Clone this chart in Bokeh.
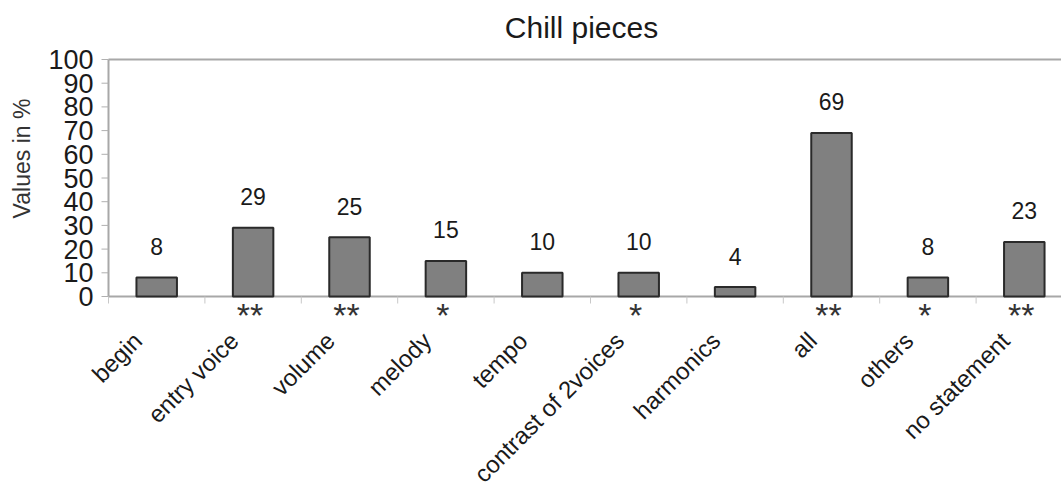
import math
from bokeh.plotting import figure
from bokeh.models import ColumnDataSource, LabelSet, Label, Range1d
from bokeh.core.properties import value
from bokeh.embed import file_html
from bokeh.resources import INLINE

# ---- data ----
categories = ["begin", "entry voice", "volume", "melody", "tempo",
              "contrast of 2voices", "harmonics", "all", "others", "no statement"]
values = [8, 29, 25, 15, 10, 10, 4, 69, 8, 23]
significance = ["", "**", "**", "*", "", "*", "", "**", "*", "**"]
y_ticks = [0, 10, 20, 30, 40, 50, 60, 70, 80, 90, 100]
title_text = "Chill pieces"
y_label = "Values in %"

FONT = "Liberation Sans"
W, H = 1061, 487
# layout of the plotting area in pixels
LEFT, TOP, BOTTOM = 108, 59, 296
KX = 96.4                     # px per category
KY = (BOTTOM - TOP) / 100.0   # px per percent

n = len(categories)
xs = [i + 0.5 for i in range(n)]
x_end = (W - LEFT) / KX

src = ColumnDataSource(dict(x=xs, top=values, cat=categories, sig=significance,
                            lab=[str(v) for v in values], zero=[0] * n))
tsrc = ColumnDataSource(dict(y=y_ticks, lab=[str(t) for t in y_ticks], x=[0] * len(y_ticks)))

p = figure(width=W, height=H, output_backend="svg", toolbar_location=None,
           x_range=Range1d(-LEFT / KX, x_end),
           y_range=Range1d(-(H - BOTTOM) / KY, 100 + TOP / KY),
           min_border=0)
p.axis.visible = False
p.grid.visible = False
p.outline_line_color = None
p.background_fill_color = "white"
p.border_fill_color = "white"

AX = "#a8a8a8"
# plot frame lines (left axis, bottom axis, top border)
p.line(x=[0, 0], y=[0, 100], line_color=AX, line_width=2)
p.line(x=[0, x_end], y=[0, 0], line_color=AX, line_width=2)
p.line(x=[0, x_end], y=[100, 100], line_color=AX, line_width=2)
# category boundary ticks
bx = list(range(n + 1))
p.segment(x0=bx, y0=[0] * len(bx), x1=bx, y1=[-7 / KY] * len(bx), line_color="#c8c8c8", line_width=1)
# y ticks
p.segment(x0=[-7 / KX] * len(y_ticks), y0=y_ticks, x1=[0] * len(y_ticks), y1=y_ticks,
          line_color="#b0b0b0", line_width=1)

p.vbar(x="x", top="top", width=0.42, bottom=0, source=src,
       fill_color="#808080", line_color="#2a2a2a", line_width=2)

# y tick labels
p.add_layout(LabelSet(x="x", y="y", text="lab", source=tsrc, x_offset=-15,
                      text_align="right", text_baseline="middle",
                      text_font=value(FONT), text_font_size=value("27px"),
                      text_color=value("#1a1a1a")))
# value labels
p.add_layout(LabelSet(x="x", y="top", text="lab", source=src, y_offset=31,
                      text_align="center", text_baseline="middle",
                      text_font=value(FONT), text_font_size=value("23px"),
                      text_color=value("#1a1a1a")))
# significance stars
p.add_layout(LabelSet(x="x", y="zero", text="sig", source=src, x_offset=-3, y_offset=-18,
                      text_align="center", text_baseline="middle",
                      text_font=value(FONT), text_font_size=value("34px"),
                      text_color=value("#333333")))
# category labels
p.add_layout(LabelSet(x="x", y="zero", text="cat", source=src, x_offset=-19, y_offset=-40,
                      angle=math.pi / 4, text_align="right", text_baseline="middle",
                      text_font=value(FONT), text_font_size=value("24px"),
                      text_color=value("#1a1a1a")))
# y axis label
p.add_layout(Label(x=21, y=H - 158, x_units="screen", y_units="screen", text=y_label,
                   angle=math.pi / 2, text_align="center", text_baseline="middle",
                   text_font=FONT, text_font_size="23px", text_color="#333333"))
# title
p.add_layout(Label(x=581, y=H - 27, x_units="screen", y_units="screen", text=title_text,
                   text_align="center", text_baseline="alphabetic",
                   text_font=FONT, text_font_size="30px", text_color="#1a1a1a"))

open("out.html", "w").write(file_html(p, INLINE))
